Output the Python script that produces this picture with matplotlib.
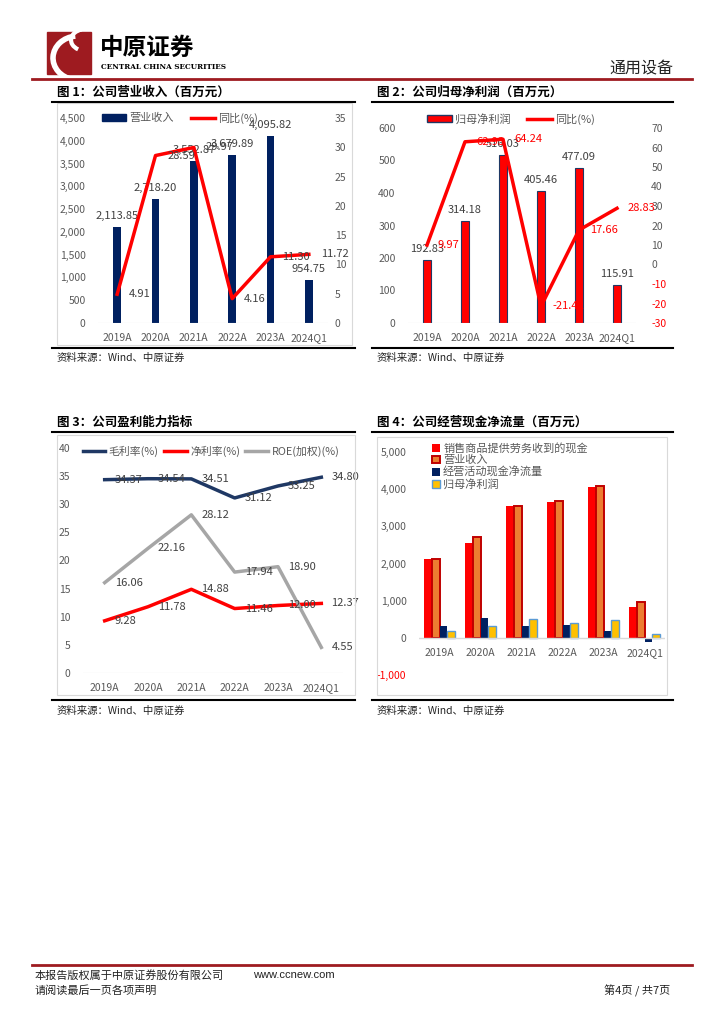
import numpy as np
import matplotlib

matplotlib.use("Agg")
import matplotlib.pyplot as plt
from matplotlib.lines import Line2D
from matplotlib.patches import Rectangle, Patch, Arc
from matplotlib.ticker import FuncFormatter

plt.rcParams["font.family"] = ["Noto Sans CJK SC", "DejaVu Sans"]
plt.rcParams["axes.unicode_minus"] = False

# ── data ────────────────────────────────────────────────────────────────────
years = ["2019A", "2020A", "2021A", "2022A", "2023A", "2024Q1"]
revenue = [2113.85, 2718.20, 3552.87, 3679.89, 4095.82, 954.75]
revenue_yoy = [4.91, 28.59, 29.97, 4.16, 11.30, 11.72]
net_profit = [192.83, 314.18, 516.03, 405.46, 477.09, 115.91]
net_profit_yoy = [9.97, 62.93, 64.24, -21.42, 17.66, 28.83]
gross_margin = [34.37, 34.54, 34.51, 31.12, 33.25, 34.80]
net_margin = [9.28, 11.78, 14.88, 11.46, 12.00, 12.37]
roe = [16.06, 22.16, 28.12, 17.94, 18.90, 4.55]
cash_sales = [2110, 2560, 3550, 3650, 4060, 840]
op_cashflow = [305, 545, 320, 350, 180, -120]

W, H = 724, 1024
NAVY = "#002060"
RED = "#FF0000"
GRAY_TXT = "#595959"
LBL = "#404040"
DARKRED = "#9E1B20"

fig = plt.figure(figsize=(W / 100, H / 100), dpi=100)


def fx(x):
    return x / W


def fy(y):
    return 1 - y / H


def axes_px(x0, y0, x1, y1):
    return fig.add_axes([fx(x0), fy(y1), (x1 - x0) / W, (y1 - y0) / H])


def hline(x0, x1, y, color="black", lw=1.5):
    fig.add_artist(Line2D([fx(x0), fx(x1)], [fy(y), fy(y)], color=color, lw=lw, transform=fig.transFigure))


def box(x0, y0, x1, y1):
    fig.add_artist(
        Rectangle((fx(x0), fy(y1)), (x1 - x0) / W, (y1 - y0) / H, fill=False, ec="#D9D9D9", lw=0.8,
                  transform=fig.transFigure)
    )


def text(x, y, s, **kw):
    fig.text(fx(x), fy(y), s, **kw)


def clean(ax):
    for sp in ax.spines.values():
        sp.set_visible(False)
    ax.tick_params(length=0, labelsize=7.5, labelcolor=GRAY_TXT)
    ax.set_facecolor("none")


comma = FuncFormatter(lambda v, p: f"{v:,.0f}")

# ── page header / footer ────────────────────────────────────────────────────
fig.add_artist(Rectangle((fx(47), fy(74)), 44 / W, 42 / H, color=DARKRED, transform=fig.transFigure))
fig.add_artist(Arc((fx(78), fy(58)), 50 / W, 44 / H, theta1=100, theta2=250, color="white", lw=4,
                   transform=fig.transFigure))
fig.add_artist(Arc((fx(86), fy(40)), 30 / W, 22 / H, theta1=120, theta2=220, color="white", lw=3,
                   transform=fig.transFigure))
text(100, 48, "中原证券", fontsize=17, fontweight="bold", va="center", ha="left")
text(101, 67, "CENTRAL CHINA SECURITIES", fontsize=5.2, fontweight="bold", va="center", ha="left",
     family=["DejaVu Serif"])
text(673, 69, "通用设备", fontsize=11.5, va="center", ha="right", color="#222222")
hline(32, 692, 79, color=DARKRED, lw=2)

hline(32, 692, 965, color=DARKRED, lw=2)
text(35, 975, "本报告版权属于中原证券股份有限公司", fontsize=8, va="center", color="#222222")
text(253, 975, "www.ccnew.com", fontsize=8, va="center", color="#222222", family=["Liberation Sans"])
text(35, 991, "请阅读最后一页各项声明", fontsize=8, va="center", color="#222222")
text(670, 991, "第4页 / 共7页", fontsize=8, va="center", ha="right", color="#222222")

# titles, separators, sources
for x0, x1, y_t, title in [
    (52, 355, 92, "图 1：公司营业收入（百万元）"),
    (372, 673, 92, "图 2：公司归母净利润（百万元）"),
    (52, 355, 422, "图 3：公司盈利能力指标"),
    (372, 673, 422, "图 4：公司经营现金净流量（百万元）"),
]:
    text(x0 + 5, y_t, title, fontsize=9, fontweight="bold", va="center")
    hline(x0, x1, y_t + 9.5)
    hline(x0, x1, y_t + 256 if y_t < 400 else y_t + 278)
    text(x0 + 5, y_t + 266 if y_t < 400 else y_t + 289, "资料来源：Wind、中原证券", fontsize=7.5,
         va="center", color="#222222")

box(57, 103, 352, 345)
box(57, 435, 355, 695)
box(377, 437, 667, 695)

x = np.arange(len(years))

# ── chart 1: revenue ────────────────────────────────────────────────────────
ax1 = axes_px(98, 118, 328, 323)
ax1.bar(x, revenue, width=0.2, color=NAVY)
ax1.set_xlim(-0.5, 5.5)
ax1.set_ylim(0, 4500)
ax1.set_yticks(np.arange(0, 4501, 500))
ax1.yaxis.set_major_formatter(comma)
ax1.set_xticks(x)
ax1.set_xticklabels(years)
clean(ax1)
ax1.tick_params(axis="x", pad=7)
ax1.tick_params(axis="y", pad=9)
ax1.axhline(0, color="#D9D9D9", lw=0.8)
for i, v in enumerate(revenue):
    ax1.annotate(f"{v:,.2f}", (i, v), xytext=(0, 11), textcoords="offset pixels", ha="center", va="center",
                 fontsize=8, color=LBL)
ax1b = ax1.twinx()
ax1b.plot(x, revenue_yoy, color=RED, lw=2.5)
ax1b.set_ylim(0, 35)
ax1b.set_yticks(np.arange(0, 36, 5))
clean(ax1b)
ax1b.tick_params(axis="y", pad=5)
for i, v in enumerate(revenue_yoy):
    ax1b.annotate(f"{v:.2f}", (i, v), xytext=(12, 0), textcoords="offset pixels", ha="left", va="center",
                  fontsize=8, color=LBL)
ax1b.legend(
    handles=[Patch(color=NAVY, label="营业收入"), Line2D([], [], color=RED, lw=2.5, label="同比(%)")],
    loc="center", bbox_to_anchor=(fx(180), fy(118)), bbox_transform=fig.transFigure, ncol=2, frameon=False,
    fontsize=8, handlelength=2.2, handleheight=0.6, columnspacing=1.5, handletextpad=0.3, labelcolor=GRAY_TXT,
)

# ── chart 2: net profit ─────────────────────────────────────────────────────
ax2 = axes_px(408, 128, 636, 323)
ax2.bar(x, net_profit, width=0.21, color=RED, edgecolor="#1F3864", lw=0.8)
ax2.set_xlim(-0.5, 5.5)
ax2.set_ylim(0, 600)
ax2.set_yticks(np.arange(0, 601, 100))
ax2.set_xticks(x)
ax2.set_xticklabels(years)
clean(ax2)
ax2.tick_params(axis="x", pad=7)
ax2.tick_params(axis="y", pad=9)
ax2.axhline(0, color="#D9D9D9", lw=0.8)
for i, v in enumerate(net_profit):
    ax2.annotate(f"{v:.2f}", (i, v), xytext=(0, 11), textcoords="offset pixels", ha="center", va="center",
                 fontsize=8, color=LBL)
ax2b = ax2.twinx()
ax2b.plot(x, net_profit_yoy, color=RED, lw=2.5)
ax2b.set_ylim(-30, 70)
ax2b.set_yticks(np.arange(-30, 71, 10))
clean(ax2b)
ax2b.tick_params(axis="y", pad=11)
fig.canvas.draw()
for t in ax2b.get_yticklabels():
    if t.get_text().startswith(("-", "−")):
        t.set_color(RED)
for i, v in enumerate(net_profit_yoy):
    ax2b.annotate(f"{v:.2f}", (i, v), xytext=(11, 0), textcoords="offset pixels", ha="left", va="center",
                  fontsize=8, color=RED, annotation_clip=False)
ax2b.legend(
    handles=[Patch(fc=RED, ec="#1F3864", label="归母净利润"), Line2D([], [], color=RED, lw=2.5, label="同比(%)")],
    loc="center", bbox_to_anchor=(fx(511), fy(119)), bbox_transform=fig.transFigure, ncol=2, frameon=False,
    fontsize=8, handlelength=2.2, handleheight=0.6, columnspacing=1.5, handletextpad=0.3, labelcolor=GRAY_TXT,
)

# ── chart 3: profitability ──────────────────────────────────────────────────
ax3 = axes_px(83, 448, 343, 673)
ax3.plot(x, gross_margin, color="#1F3864", lw=2.5, label="毛利率(%)")
ax3.plot(x, net_margin, color=RED, lw=2.5, label="净利率(%)")
ax3.plot(x, roe, color="#A6A6A6", lw=2.5, label="ROE(加权)(%)")
ax3.set_xlim(-0.5, 5.5)
ax3.set_ylim(0, 40)
ax3.set_yticks(np.arange(0, 41, 5))
ax3.set_xticks(x)
ax3.set_xticklabels(years)
clean(ax3)
ax3.tick_params(axis="x", pad=7)
ax3.tick_params(axis="y", pad=9)
ax3.axhline(0, color="#D9D9D9", lw=0.8)
for series in (gross_margin, net_margin, roe):
    for i, v in enumerate(series):
        ax3.annotate(f"{v:.2f}", (i, v), xytext=(10, 0), textcoords="offset pixels", ha="left", va="center",
                     fontsize=8, color=LBL, annotation_clip=False)
ax3.legend(loc="center", bbox_to_anchor=(fx(211), fy(451)), bbox_transform=fig.transFigure, ncol=3,
           frameon=False, fontsize=7.8, handlelength=2.1, columnspacing=0.5, handletextpad=0.3,
           labelcolor=GRAY_TXT)

# ── chart 4: operating cash flow ────────────────────────────────────────────
ax4 = axes_px(419, 452, 665, 675)
bw = 0.19
ax4.bar(x - 1.5 * bw, cash_sales, width=bw, color=RED, label="销售商品提供劳务收到的现金")
ax4.bar(x - 0.5 * bw, revenue, width=bw, color="#ED7D31", edgecolor="#C00000", lw=1.4, label="营业收入")
ax4.bar(x + 0.5 * bw, op_cashflow, width=bw, color=NAVY, label="经营活动现金净流量")
ax4.bar(x + 1.5 * bw, net_profit, width=bw, color="#FFC000", edgecolor="#5B9BD5", lw=1, label="归母净利润")
ax4.set_xlim(-0.5, 5.5)
ax4.set_ylim(-1000, 5000)
ax4.set_yticks(np.arange(-1000, 5001, 1000))
ax4.yaxis.set_major_formatter(comma)
ax4.set_xticks([])
clean(ax4)
ax4.tick_params(axis="y", pad=9)
ax4.axhline(0, color="#D9D9D9", lw=1)
for t in ax4.get_yticklabels():
    if t.get_text().startswith(("-", "−")):
        t.set_color(RED)
for i, yr in enumerate(years):
    ax4.annotate(yr, (i, 0), xytext=(0, -15), textcoords="offset pixels", ha="center", va="center",
                 fontsize=7.5, color=GRAY_TXT)
ax4.legend(loc="upper left", bbox_to_anchor=(fx(432), fy(443)), bbox_transform=fig.transFigure,
           frameon=False, fontsize=8, handlelength=0.7, handleheight=0.7, labelspacing=0.12,
           handletextpad=0.3, labelcolor=GRAY_TXT, borderaxespad=0, borderpad=0)

fig.savefig("out.png", dpi=100, facecolor="white")
